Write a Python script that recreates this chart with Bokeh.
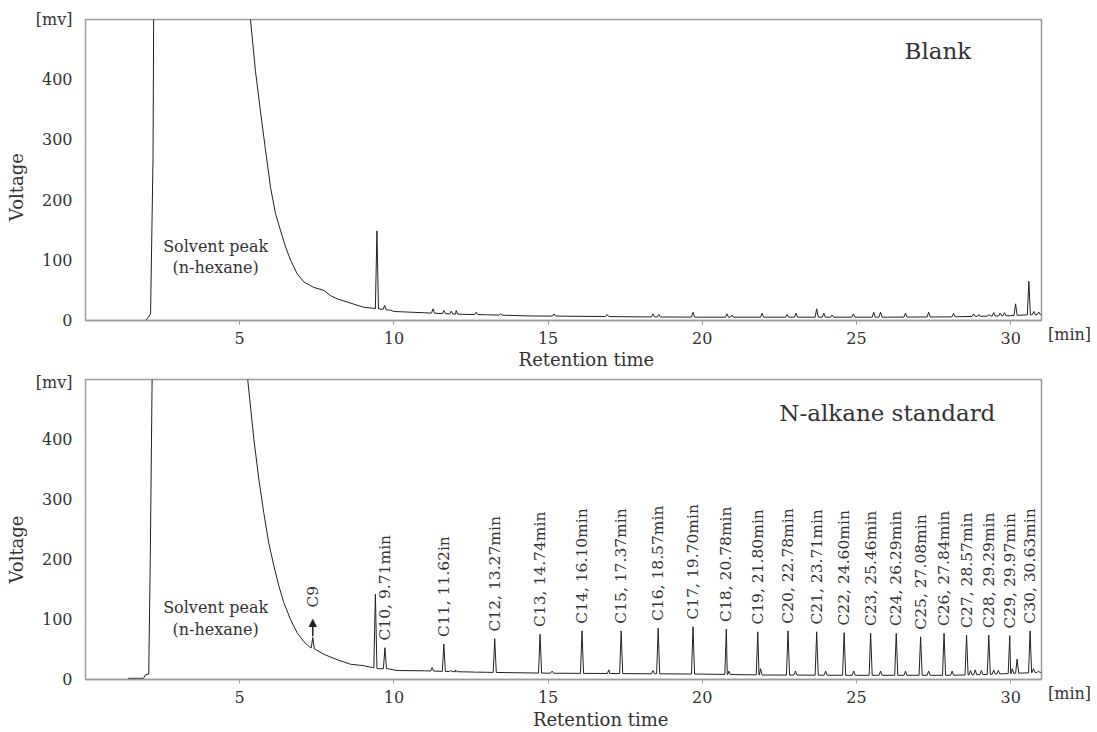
import numpy as np
from bokeh.plotting import figure
from bokeh.models import Range1d, FixedTicker, Arrow, NormalHead, Div
from bokeh.layouts import column, row
from bokeh.core.properties import value
from bokeh.embed import file_html
from bokeh.resources import INLINE

# ---------------- data ----------------
# Blank chromatogram: baseline / solvent trace (min, mV)
blank_t = [0.0, 1.95, 2.00, 2.11, 2.19, 2.21, 2.25, 5.20, 5.35, 5.51, 5.67, 5.84, 6.00, 6.16,
           6.32, 6.49, 6.65, 6.86, 7.08, 7.40, 7.60, 7.73, 7.94, 8.16, 8.59, 9.02, 9.30, 9.55,
           9.90, 10.0, 11.0, 12.0, 13.0, 14.5, 15.5, 17.0, 18.0, 20.0, 22.0, 24.0, 26.0, 28.0,
           29.0, 30.0, 30.4, 31.0]
blank_v = [0, 0, 3, 11, 271, 500, 600, 600, 500, 415, 349, 282, 221, 178,
           150, 122, 100, 78, 64, 55, 52, 50, 41.5, 36, 29, 22, 20.5, 19,
           17, 15, 12.8, 10.5, 9.5, 7.5, 7.2, 6.5, 6, 5.5, 5.5, 5.5, 5.5, 6,
           7, 8, 9, 10]
# Blank: small peaks (apex time, apex mV)
blank_peak_t = [9.45, 9.70, 11.27, 11.62, 11.86, 12.02, 12.67, 13.46, 15.19, 16.92, 18.40, 18.59,
                19.70, 20.80, 20.96, 21.94, 22.75, 23.04, 23.71, 23.94, 24.21, 24.90, 25.56,
                25.78, 26.59, 27.34, 28.15, 28.80, 28.97, 29.30, 29.45, 29.66, 29.80, 30.16,
                30.59, 30.75, 30.91]
blank_peak_v = [149, 25, 19.4, 16.6, 15.5, 16.6, 13.8, 11, 11, 10, 11, 10,
                13.8, 11, 9, 12, 10, 12, 19.4, 12, 9, 11, 13.8,
                13.8, 12.2, 13.8, 12, 11, 10, 10, 13, 12, 13, 27.7,
                65, 15, 14]

# N-alkane standard: baseline / solvent trace
std_t = [0.0, 1.36, 1.40, 1.88, 1.95, 2.05, 2.10, 2.16, 2.20, 5.10, 5.26, 5.46, 5.62, 5.78,
         5.94, 6.11, 6.27, 6.43, 6.65, 6.86, 7.08, 7.30, 7.46, 7.73, 8.16, 8.59, 9.02, 9.30,
         9.52, 9.80, 10.1, 11.0, 12.0, 13.0, 15.0, 17.0, 20.0, 22.0, 25.0, 28.0, 29.0, 30.0,
         31.0]
std_v = [0, 0, 2, 2, 8, 9, 200, 500, 600, 600, 500, 400, 334, 278,
         228, 189, 156, 128, 100, 78, 63, 53, 50, 42, 33, 25.5, 23, 20,
         18, 18, 15, 14.5, 13, 12, 10.5, 10, 9, 7.5, 7, 7, 8, 10,
         12]
# N-alkane standard: unlabelled peaks (C9 first)
std_peak_t = [7.37, 9.40, 11.24, 11.84, 12.00, 12.65, 15.13, 16.97, 18.40, 20.86, 21.89, 23.02,
              24.00, 24.91, 25.78, 26.59, 27.34, 28.10, 28.70, 28.85, 29.05, 29.45, 29.60,
              30.05, 30.21, 30.74, 30.90]
std_peak_v = [70, 142, 20, 15, 16, 12, 14, 16, 15, 14, 18, 14,
              14, 14, 14, 14, 14, 14, 15, 16, 15, 16, 15,
              18, 34, 18, 14]

# Labelled n-alkane peaks
alkane_times = [9.71, 11.62, 13.27, 14.74, 16.10, 17.37, 18.57, 19.70, 20.78, 21.80, 22.78,
                23.71, 24.60, 25.46, 26.29, 27.08, 27.84, 28.57, 29.29, 29.97, 30.63]
alkane_heights = [53, 59, 68, 75.5, 81, 81, 85.5, 88, 84, 79.5, 81,
                  79.5, 78, 77, 77, 71, 77, 74, 74, 73, 81]
alkane_labels = ["C10, 9.71min", "C11, 11.62in", "C12, 13.27min", "C13, 14.74min",
                 "C14, 16.10min", "C15, 17.37min", "C16, 18.57min", "C17, 19.70min",
                 "C18, 20.78min", "C19, 21.80min", "C20, 22.78min", "C21, 23.71min",
                 "C22, 24.60min", "C23, 25.46min", "C24, 26.29min", "C25, 27.08min",
                 "C26, 27.84min", "C27, 28.57min", "C28, 29.29min", "C29, 29.97min",
                 "C30, 30.63min"]

x_ticks = [5, 10, 15, 20, 25, 30]
y_ticks = [0, 100, 200, 300, 400, 500]
y_top_label = "[mv]"
x_unit_label = "[min]"
x_title = "Retention time"
y_title = "Voltage"
c9_name = "C9"
c9_time = 7.37
c9_height = 70
solvent_lines = ["Solvent peak", "(n-hexane)"]

# ---------------- styling ----------------
FONT = "DejaVu Serif"
TXT = "#333333"
LINE = "#222222"
FRAME = "#9c9c9c"
W = 0.05  # half width of a drawn peak, minutes
NB = "\u00a0"


def build_trace(tt, vv, pt, pv):
    t = list(tt)
    v = list(vv)
    for a, h in zip(pt, pv):
        t += [a - W, a, a + W]
        v += [float(np.interp(a - W, tt, vv)), h, float(np.interp(a + W, tt, vv))]
    order = np.argsort(np.array(t), kind="stable")
    return np.array(t)[order], np.array(v)[order]


def make_fig(border_top, frame_h, border_bottom, xlab_standoff, xlab_pad, ylab_pad):
    p = figure(frame_width=956, frame_height=frame_h, output_backend="svg",
               toolbar_location=None, x_range=Range1d(0, 31), y_range=Range1d(0, 500),
               min_border_left=85, min_border_right=5, min_border_top=border_top,
               min_border_bottom=border_bottom)
    p.grid.visible = False
    p.outline_line_color = FRAME
    p.outline_line_width = 1.5
    p.background_fill_color = "white"
    p.border_fill_color = "white"

    xa = p.xaxis[0]
    xa.ticker = FixedTicker(ticks=x_ticks)
    xa.axis_line_color = FRAME
    xa.axis_line_width = 1.5
    xa.major_tick_line_color = FRAME
    xa.major_tick_out = 4
    xa.major_tick_in = 0
    xa.minor_tick_line_color = None
    xa.major_label_standoff = 7
    xa.major_label_text_font = FONT
    xa.major_label_text_font_size = "16px"
    xa.major_label_text_color = TXT
    xa.axis_label = NB * xlab_pad + x_title
    xa.axis_label_text_font = FONT
    xa.axis_label_text_font_size = "18px"
    xa.axis_label_text_font_style = "normal"
    xa.axis_label_text_color = TXT
    xa.axis_label_standoff = xlab_standoff

    ya = p.yaxis[0]
    ya.ticker = FixedTicker(ticks=y_ticks)
    ya.axis_line_color = None
    ya.major_tick_line_color = None
    ya.minor_tick_line_color = None
    ya.major_tick_out = 4
    ya.major_label_standoff = 9
    ya.major_label_text_font = FONT
    ya.major_label_text_font_size = "16px"
    ya.major_label_text_color = TXT
    ya.major_label_overrides = {500: y_top_label}
    ya.axis_label = y_title + NB * ylab_pad
    ya.axis_label_text_font = FONT
    ya.axis_label_text_font_size = "18px"
    ya.axis_label_text_font_style = "normal"
    ya.axis_label_text_color = TXT
    ya.axis_label_standoff = 6
    return p


def add_common(p, t, v, title, title_x, title_y, sol_x, sol_y1, sol_y2):
    p.line(t, v, line_color=LINE, line_width=1)
    p.text(x=[title_x], y=[title_y], text=[title], text_font=value(FONT),
           text_font_size="23px", text_color=TXT, text_align="center", text_baseline="middle")
    p.text(x=[sol_x, sol_x], y=[sol_y1, sol_y2], text=solvent_lines, text_font=value(FONT),
           text_font_size="16px", text_color=TXT, text_align="center", text_baseline="middle")


def unit_div(top):
    return Div(text=x_unit_label, width=48, height=20, margin=(top, 0, 0, 2),
               styles={"font-family": FONT, "font-size": "16px", "color": TXT,
                       "line-height": "20px", "white-space": "nowrap"})


# ---------------- top: blank ----------------
p1 = make_fig(19, 301, 50, 2, 8, 6)
bt, bv = build_trace(blank_t, blank_v, blank_peak_t, blank_peak_v)
add_common(p1, bt, bv, "Blank", 27.64, 447, 4.22, 123, 88)

# ---------------- bottom: n-alkane standard ----------------
p2 = make_fig(7, 300, 55, 3, 13, 7)
all_pt = std_peak_t + alkane_times
all_pv = std_peak_v + alkane_heights
st, sv = build_trace(std_t, std_v, all_pt, all_pv)
add_common(p2, st, sv, "N-alkane standard", 26.0, 445, 4.22, 120, 83)

lab_y = [h + 12 for h in alkane_heights]
p2.text(x=alkane_times, y=lab_y, text=alkane_labels, angle=np.pi / 2,
        text_font=value(FONT), text_font_size="15.5px", text_color=TXT,
        text_align="left", text_baseline="middle")
p2.text(x=[c9_time], y=[c9_height + 50], text=[c9_name], angle=np.pi / 2,
        text_font=value(FONT), text_font_size="15.5px", text_color=TXT,
        text_align="left", text_baseline="middle")
p2.add_layout(Arrow(end=NormalHead(size=7, fill_color=LINE, line_color=LINE),
                    x_start=c9_time, y_start=c9_height + 2, x_end=c9_time, y_end=c9_height + 30,
                    line_color=LINE, line_width=1.5))

layout = column(row(p1, unit_div(325), spacing=0), row(p2, unit_div(312), spacing=0), spacing=0)
open("out.html", "w").write(file_html(layout, INLINE))
